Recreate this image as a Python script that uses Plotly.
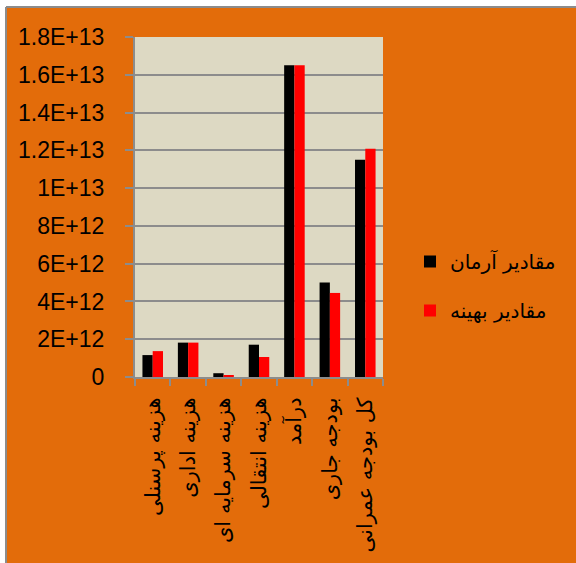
import plotly.graph_objects as go

categories = ["هزینه پرسنلی", "هزینه اداری", "هزینه سرمایه ای", "هزینه انتقالی",
              "درآمد", "بودجه جاری", "کل بودجه عمرانی"]
armaan = [1.16e12, 1.82e12, 0.20e12, 1.71e12, 16.5e12, 5.0e12, 11.5e12]
behineh = [1.37e12, 1.82e12, 0.09e12, 1.06e12, 16.5e12, 4.45e12, 12.08e12]
series_names = ["مقادیر آرمان", "مقادیر بهینه"]
ytick_vals = [0, 2e12, 4e12, 6e12, 8e12, 1e13, 1.2e13, 1.4e13, 1.6e13, 1.8e13]
ytick_text = ["0", "2E+12", "4E+12", "6E+12", "8E+12", "1E+13",
              "1.2E+13", "1.4E+13", "1.6E+13", "1.8E+13"]

W, H = 576, 563
L, R, T, B = 135, 193, 37, 186
pw, ph = W - L - R, H - T - B

def px_x(p):
    return (p - L) / pw

def px_y(p):
    return (H - B - p) / ph

fig = go.Figure()
fig.add_trace(go.Bar(x=categories, y=armaan, name=series_names[0],
                     marker=dict(color="#000000", line=dict(width=0)),
                     legendgroup="a"))
fig.add_trace(go.Bar(x=categories, y=behineh, name=series_names[1],
                     marker=dict(color="#FF0000", line=dict(width=0)),
                     legendgroup="b"))

# white margins outside the orange chart area (left and top)
fig.add_shape(type="rect", xref="paper", yref="paper",
              x0=px_x(-5), x1=px_x(6), y0=px_y(600), y1=px_y(-5),
              fillcolor="#FFFFFF", line=dict(width=0), layer="below")
fig.add_shape(type="rect", xref="paper", yref="paper",
              x0=px_x(-5), x1=px_x(600), y0=px_y(7), y1=px_y(-5),
              fillcolor="#FFFFFF", line=dict(width=0), layer="below")
fig.add_shape(type="line", xref="paper", yref="paper",
              x0=px_x(6), x1=px_x(6), y0=px_y(600), y1=px_y(7),
              line=dict(color="#8C8C8C", width=2), layer="below")
fig.add_shape(type="line", xref="paper", yref="paper",
              x0=px_x(6), x1=px_x(600), y0=px_y(7), y1=px_y(7),
              line=dict(color="#8C8C8C", width=2), layer="below")

fig.update_layout(
    width=W, height=H,
    margin=dict(l=L, r=R, t=T, b=B, pad=0, autoexpand=False),
    paper_bgcolor="#E36C0A",
    plot_bgcolor="#DDD9C3",
    barmode="group",
    bargap=0.42,
    bargroupgap=0,
    font=dict(family="Liberation Sans", color="#000000"),
    showlegend=True,
    legend=dict(x=px_x(410), xanchor="left", y=px_y(242), yanchor="top",
                bgcolor="rgba(0,0,0,0)", traceorder="grouped",
                tracegroupgap=20,
                font=dict(family="DejaVu Sans", size=20, color="#000000"),
                itemwidth=30),
    xaxis=dict(
        showgrid=False, showline=True, linecolor="#8C8C8C", linewidth=2,
        ticks="outside", ticklen=7, tickcolor="#8C8C8C", tickwidth=2,
        tickson="boundaries", tickangle=-90,
        tickfont=dict(family="DejaVu Sans", size=21, color="#000000"),
        ticklabelstandoff=10, automargin=False,
    ),
    yaxis=dict(
        range=[0, 1.8e13], tickvals=ytick_vals, ticktext=ytick_text,
        showgrid=True, gridcolor="#8C8C8C", gridwidth=2,
        showline=True, linecolor="#8C8C8C", linewidth=2,
        ticks="outside", ticklen=8, tickcolor="#8C8C8C", tickwidth=2,
        tickfont=dict(family="Liberation Sans", size=23, color="#000000"),
        ticklabelstandoff=16, zeroline=False, automargin=False,
    ),
)

fig.write_html("out.html")
